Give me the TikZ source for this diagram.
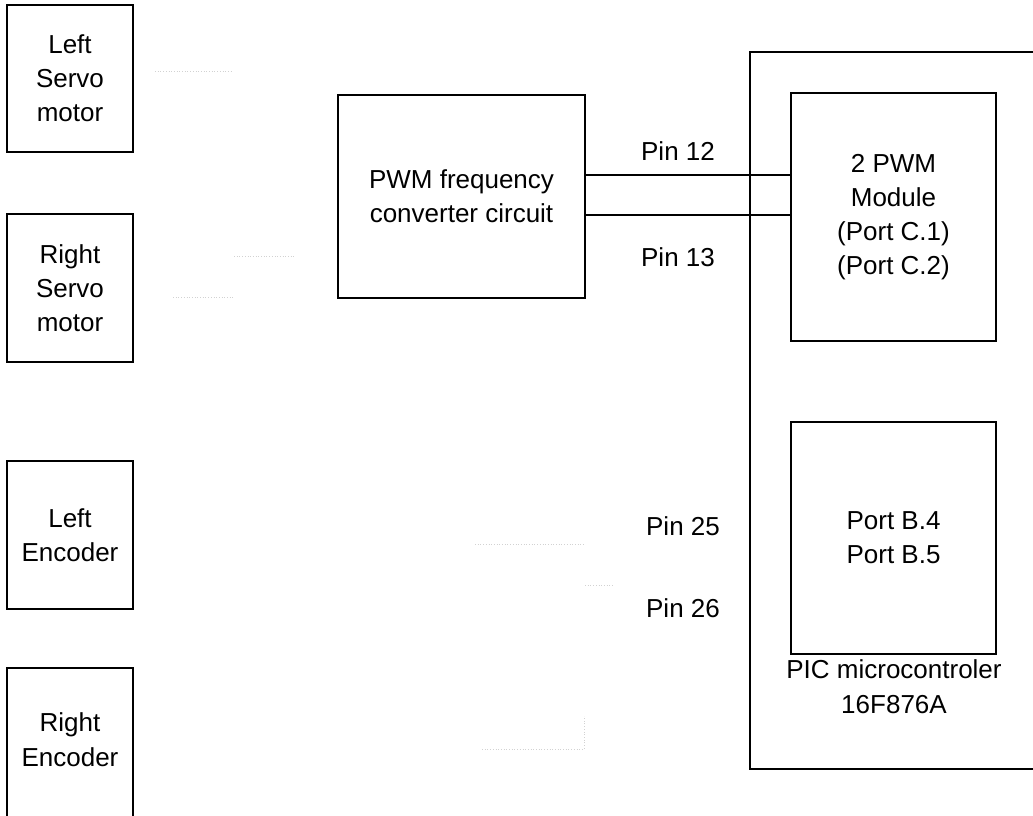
\documentclass[tikz,border=0pt]{standalone}
\usepackage{fontspec}
\setmainfont{Liberation Sans}
\begin{document}
\begin{tikzpicture}[x=1pt,y=-1pt,
  box/.style={draw,line width=1.1pt,rectangle,inner sep=0pt,align=center,font=\fontsize{26}{34}\selectfont},
  lbl/.style={inner sep=0pt,font=\fontsize{26}{35}\selectfont,align=center},
  wire/.style={line width=1.1pt},
  faint/.style={draw=gray!35,line width=0.7pt,dotted}]
\useasboundingbox (0,0) rectangle (1033,815);
\clip (0,0) rectangle (1033,815);
% left column
\node[box,minimum width=126pt,minimum height=147pt] (ls) at (70,78.5) {Left\\Servo\\motor};
\node[box,minimum width=126pt,minimum height=148pt] (rs) at (70,288) {Right\\Servo\\motor};
\node[box,minimum width=126pt,minimum height=148pt] (le) at (70,535) {Left\\Encoder};
\node[box,minimum width=126pt,minimum height=152pt,text depth=0pt] (re) at (70,744) {};
\node[lbl] (retxt) at (70,740) {Right\\Encoder};
% converter
\node[box,minimum width=247pt,minimum height=203pt] (pwmc) at (461.5,196.5) {PWM frequency\\converter circuit};
% PIC
\node[box,minimum width=290pt,minimum height=717pt] (pic) at (895,410.5) {};
\node[lbl] (pictxt) at (894,687) {PIC microcontroler\\16F876A};
\node[box,minimum width=205pt,minimum height=248pt] (pwmm) at (893.5,217) {2 PWM\\Module\\(Port C.1)\\(Port C.2)};
\node[box,minimum width=205pt,minimum height=232pt] (portb) at (893.5,538) {Port B.4\\Port B.5};
% wires
\coordinate (w1) at (0,175);
\coordinate (w2) at (0,215);
\draw[wire] (pwmc.east |- w1) -- (pwmm.west |- w1);
\draw[wire] (pwmc.east |- w2) -- (pwmm.west |- w2);
% labels
\node[lbl] (p12) at (678,151) {Pin 12};
\node[lbl] (p13) at (678,257) {Pin 13};
\node[lbl] (p25) at (683,526) {Pin 25};
\node[lbl] (p26) at (683,608) {Pin 26};
% faint remnant lines
\coordinate (f1a) at (155,71); \coordinate (f1b) at (233,71);
\coordinate (f2a) at (234,256); \coordinate (f2b) at (294,256);
\coordinate (f3a) at (173,297); \coordinate (f3b) at (235,297);
\coordinate (f4a) at (475,544); \coordinate (f4b) at (585,544);
\coordinate (f5a) at (585,585); \coordinate (f5b) at (613,585);
\coordinate (f6a) at (482,749); \coordinate (f6b) at (584,749); \coordinate (f6c) at (584,716);
\draw[faint] (f1a) -- (f1b);
\draw[faint] (f2a) -- (f2b);
\draw[faint] (f3a) -- (f3b);
\draw[faint] (f4a) -- (f4b);
\draw[faint] (f5a) -- (f5b);
\draw[faint] (f6a) -- (f6b) -- (f6c);
\end{tikzpicture}
\end{document}
